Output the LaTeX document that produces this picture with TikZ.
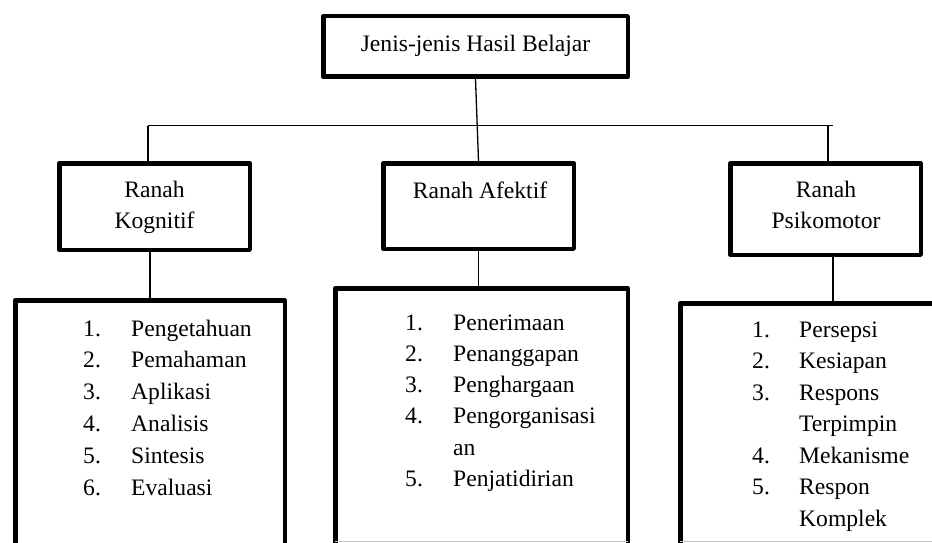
\documentclass[tikz,border=0pt]{standalone}
\usepackage{fontspec}
\setmainfont{Liberation Serif}
\begin{document}
\begin{tikzpicture}[x=1pt,y=-1pt]
\tikzset{
  box/.style={draw, line width=4.5pt, line join=round, inner sep=0pt, rectangle},
  conn/.style={line width=1.3pt},
  txt/.style={inner sep=0pt, font=\fontsize{23.6}{28}\selectfont},
  cutline/.style={draw=gray!45, line width=0.9pt, shorten <=2.25pt, shorten >=2.25pt}
}
\useasboundingbox (0,0) rectangle (932,543);
\clip (0,0) rectangle (932,543);
\fill[white] (0,0) rectangle (932,543);

% boxes
\node[box, minimum width=304.5pt, minimum height=60.5pt] (top) at (475.5,46.5) {};
\node[box, minimum width=190.5pt, minimum height=86.5pt] (kog) at (154.5,206.5) {};
\node[box, minimum width=190.5pt, minimum height=85.5pt] (afk) at (478.5,206) {};
\node[box, minimum width=190.5pt, minimum height=91.5pt] (psi) at (825.5,209) {};
\node[box, minimum width=269.5pt, minimum height=279.75pt] (list1) at (150,440.125) {};
\node[box, minimum width=292.5pt, minimum height=291.75pt] (list2) at (481.5,434.125) {};
\node[box, minimum width=305.5pt, minimum height=276.75pt] (list3) at (833,441.625) {};

% cut edge
\coordinate (cut) at (0,541);
\draw[cutline] (list2.west |- cut) -- (list2.east |- cut);
\draw[cutline] (list3.west |- cut) -- (list3.east |- cut);

% connectors
\coordinate (barL) at (148,125.5);
\coordinate (barR) at (833,125.5);
\draw[conn] (top.south) -- (afk.north);
\draw[conn] (barL) -- (barR);
\draw[conn] (barL) -- (barL |- kog.north);
\draw[conn] ([xshift=2.5pt]psi.north |- barR) -- ([xshift=2.5pt]psi.north);
\draw[conn] (kog.south -| list1.north) -- (list1.north);
\draw[conn] (afk.south) -- (afk.south |- list2.north);
\draw[conn] (list3.north |- psi.south) -- (list3.north);

% titles
\node[txt, anchor=base] (topt) at (475.5,52) {Jenis-jenis Hasil Belajar};
\node[txt, anchor=base] (kogA) at (154.5,197) {Ranah};
\node[txt, anchor=base] (kogB) at (154.5,228) {Kognitif};
\node[txt, anchor=base] (afkA) at (480,198.5) {Ranah Afektif};
\node[txt, anchor=base] (psiA) at (826,197) {Ranah};
\node[txt, anchor=base] (psiB) at (826,228) {Psikomotor};

% list 1
\foreach \it [count=\r from 0] in {Pengetahuan,Pemahaman,Aplikasi,Analisis,Sintesis,Evaluasi}
  \node[txt, anchor=base west] (ki\r) at (131,{336+31.8*\r}) {\it};
\foreach \n [count=\r from 0] in {1,2,3,4,5,6}
  \node[txt, anchor=base west] (kn\r) at (83,{336+31.8*\r}) {\n.};

% list 2
\foreach \it [count=\r from 0] in {Penerimaan,Penanggapan,Penghargaan,Pengorganisasi,an,Penjatidirian}
  \node[txt, anchor=base west] (ai\r) at (453,{330+31.3*\r}) {\it};
\foreach \n/\r in {1/0,2/1,3/2,4/3,5/5}
  \node[txt, anchor=base west] (an\r) at (405,{330+31.3*\r}) {\n.};

% list 3
\foreach \it [count=\r from 0] in {Persepsi,Kesiapan,Respons,Terpimpin,Mekanisme,Respon,Komplek}
  \node[txt, anchor=base west] (pi\r) at (799,{337+31.5*\r}) {\it};
\foreach \n/\r in {1/0,2/1,3/2,4/4,5/5}
  \node[txt, anchor=base west] (pn\r) at (752,{337+31.5*\r}) {\n.};
\end{tikzpicture}
\end{document}
